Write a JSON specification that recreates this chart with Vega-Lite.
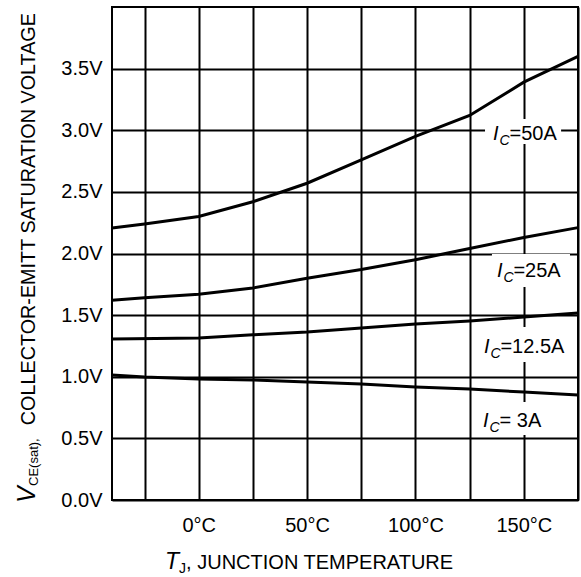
{
  "$schema": "https://vega.github.io/schema/vega-lite/v6.json",
  "width": 466,
  "height": 493,
  "autosize": {"type": "none"},
  "padding": {"left": 112, "top": 7, "right": 3, "bottom": 77},
  "background": "white",
  "config": {
    "view": {"stroke": "black", "strokeWidth": 2},
    "font": "Liberation Sans",
    "text": {"font": "Liberation Sans", "color": "black"}
  },
  "datasets": {
    "curves": [
      {"ic": "50A", "t": -40, "v": 2.207},
      {"ic": "50A", "t": -25, "v": 2.24},
      {"ic": "50A", "t": 0, "v": 2.30},
      {"ic": "50A", "t": 25, "v": 2.42},
      {"ic": "50A", "t": 50, "v": 2.57},
      {"ic": "50A", "t": 75, "v": 2.76},
      {"ic": "50A", "t": 100, "v": 2.95},
      {"ic": "50A", "t": 125, "v": 3.12},
      {"ic": "50A", "t": 150, "v": 3.39},
      {"ic": "50A", "t": 175, "v": 3.60},
      {"ic": "25A", "t": -40, "v": 1.62},
      {"ic": "25A", "t": -25, "v": 1.64},
      {"ic": "25A", "t": 0, "v": 1.67},
      {"ic": "25A", "t": 25, "v": 1.72},
      {"ic": "25A", "t": 50, "v": 1.80},
      {"ic": "25A", "t": 75, "v": 1.87},
      {"ic": "25A", "t": 100, "v": 1.95},
      {"ic": "25A", "t": 125, "v": 2.04},
      {"ic": "25A", "t": 150, "v": 2.13},
      {"ic": "25A", "t": 175, "v": 2.21},
      {"ic": "12.5A", "t": -40, "v": 1.306},
      {"ic": "12.5A", "t": 0, "v": 1.314},
      {"ic": "12.5A", "t": 25, "v": 1.34},
      {"ic": "12.5A", "t": 50, "v": 1.363},
      {"ic": "12.5A", "t": 75, "v": 1.396},
      {"ic": "12.5A", "t": 100, "v": 1.428},
      {"ic": "12.5A", "t": 125, "v": 1.452},
      {"ic": "12.5A", "t": 150, "v": 1.485},
      {"ic": "12.5A", "t": 175, "v": 1.517},
      {"ic": "3A", "t": -40, "v": 1.014},
      {"ic": "3A", "t": -25, "v": 0.998},
      {"ic": "3A", "t": 0, "v": 0.982},
      {"ic": "3A", "t": 25, "v": 0.974},
      {"ic": "3A", "t": 50, "v": 0.957},
      {"ic": "3A", "t": 75, "v": 0.941},
      {"ic": "3A", "t": 100, "v": 0.917},
      {"ic": "3A", "t": 125, "v": 0.90},
      {"ic": "3A", "t": 150, "v": 0.876},
      {"ic": "3A", "t": 175, "v": 0.852}
    ],
    "boxes": [
      {"ic": "50A", "t": 132.1, "t2": 167.2, "v": 3.091, "v2": 2.888},
      {"ic": "25A", "t": 135.3, "t2": 171.3, "v": 1.996, "v2": 1.728},
      {"ic": "12.5A", "t": 129.3, "t2": 169.9, "v": 1.404, "v2": 1.120},
      {"ic": "3A", "t": 128.9, "t2": 169.5, "v": 0.795, "v2": 0.527}
    ],
    "labels": [
      {"ic": "50A", "t": 135.8, "v": 2.921, "txt": "=50A"},
      {"ic": "25A", "t": 137.6, "v": 1.809, "txt": "=25A"},
      {"ic": "12.5A", "t": 131.6, "v": 1.193, "txt": "=12.5A"},
      {"ic": "3A", "t": 131.2, "v": 0.592, "txt": "= 3A"}
    ],
    "titles": [
      {"part": "yV", "t": -75.6, "v": -0.024, "txt": "V"},
      {"part": "ySub", "t": -75.6, "v": -0.024, "txt": "CE(sat),"},
      {"part": "yMain", "t": -75.6, "v": 3.951, "txt": "COLLECTOR-EMITT SATURATION VOLTAGE"},
      {"part": "xT", "t": -15.5, "v": -0.56, "txt": "T"},
      {"part": "xSub", "t": -15.5, "v": -0.56, "txt": "J"},
      {"part": "xMain", "t": -15.5, "v": -0.56, "txt": ", JUNCTION TEMPERATURE"}
    ]
  },
  "encoding": {
    "x": {
      "field": "t",
      "type": "quantitative",
      "scale": {"domain": [-40, 175], "nice": false, "zero": false},
      "axis": {
        "values": [-25, 0, 25, 50, 75, 100, 125, 150, 175],
        "grid": true,
        "gridColor": "black",
        "gridWidth": 2,
        "gridOpacity": 1,
        "domain": false,
        "ticks": false,
        "labelFont": "Liberation Sans",
        "labelFontSize": 20,
        "labelColor": "black",
        "labelPadding": 15,
        "labelOverlap": false,
        "labelFlush": false,
        "labelBound": false,
        "labelExpr": "datum.value % 50 === 0 ? '\u00a0\u00a0\u00a0\u00a0' + datum.value + '°C' : ''",
        "title": null
      }
    },
    "y": {
      "field": "v",
      "type": "quantitative",
      "scale": {"domain": [0, 4], "nice": false, "zero": false},
      "axis": {
        "values": [0, 0.5, 1, 1.5, 2, 2.5, 3, 3.5],
        "grid": true,
        "gridColor": "black",
        "gridWidth": 2,
        "gridOpacity": 1,
        "domain": false,
        "ticks": false,
        "labelFont": "Liberation Sans",
        "labelFontSize": 20,
        "labelColor": "black",
        "labelPadding": 10,
        "labelOverlap": false,
        "labelFlush": false,
        "labelBound": false,
        "labelExpr": "format(datum.value, '.1f') + 'V'",
        "title": null
      }
    }
  },
  "layer": [
    {
      "data": {"name": "boxes"},
      "mark": {"type": "rect", "fill": "white", "strokeWidth": 0},
      "encoding": {
        "x2": {"field": "t2"},
        "y2": {"field": "v2"}
      }
    },
    {
      "data": {"name": "curves"},
      "mark": {"type": "line", "color": "black", "strokeWidth": 3, "interpolate": "linear"},
      "encoding": {
        "detail": {"field": "ic", "type": "nominal"}
      }
    },
    {
      "data": {"name": "labels"},
      "mark": {"type": "text", "align": "left", "baseline": "alphabetic", "fontSize": 20, "fontStyle": "italic", "color": "black"},
      "encoding": {"text": {"value": "I"}}
    },
    {
      "data": {"name": "labels"},
      "mark": {"type": "text", "align": "left", "baseline": "alphabetic", "fontSize": 14, "fontStyle": "italic", "dx": 6.5, "dy": 5, "color": "black"},
      "encoding": {"text": {"value": "C"}}
    },
    {
      "data": {"name": "labels"},
      "mark": {"type": "text", "align": "left", "baseline": "alphabetic", "fontSize": 20, "dx": 16.5, "color": "black"},
      "encoding": {"text": {"field": "txt"}}
    },
    {
      "data": {"name": "titles"},
      "transform": [{"filter": "datum.part === 'yV'"}],
      "mark": {"type": "text", "angle": 270, "align": "left", "baseline": "alphabetic", "fontSize": 25, "fontStyle": "italic", "color": "black"},
      "encoding": {"text": {"field": "txt"}}
    },
    {
      "data": {"name": "titles"},
      "transform": [{"filter": "datum.part === 'ySub'"}],
      "mark": {"type": "text", "angle": 270, "align": "left", "baseline": "alphabetic", "fontSize": 13, "dx": 17, "dy": 3, "color": "black"},
      "encoding": {"text": {"field": "txt"}}
    },
    {
      "data": {"name": "titles"},
      "transform": [{"filter": "datum.part === 'yMain'"}],
      "mark": {"type": "text", "angle": 270, "align": "right", "baseline": "alphabetic", "fontSize": 19.8, "color": "black"},
      "encoding": {"text": {"field": "txt"}}
    },
    {
      "data": {"name": "titles"},
      "transform": [{"filter": "datum.part === 'xT'"}],
      "mark": {"type": "text", "align": "left", "baseline": "alphabetic", "fontSize": 23, "fontStyle": "italic", "color": "black"},
      "encoding": {"text": {"field": "txt"}}
    },
    {
      "data": {"name": "titles"},
      "transform": [{"filter": "datum.part === 'xSub'"}],
      "mark": {"type": "text", "align": "left", "baseline": "alphabetic", "fontSize": 14, "dx": 14, "dy": 4, "color": "black"},
      "encoding": {"text": {"field": "txt"}}
    },
    {
      "data": {"name": "titles"},
      "transform": [{"filter": "datum.part === 'xMain'"}],
      "mark": {"type": "text", "align": "left", "baseline": "alphabetic", "fontSize": 20, "dx": 21, "color": "black"},
      "encoding": {"text": {"field": "txt"}}
    }
  ]
}
